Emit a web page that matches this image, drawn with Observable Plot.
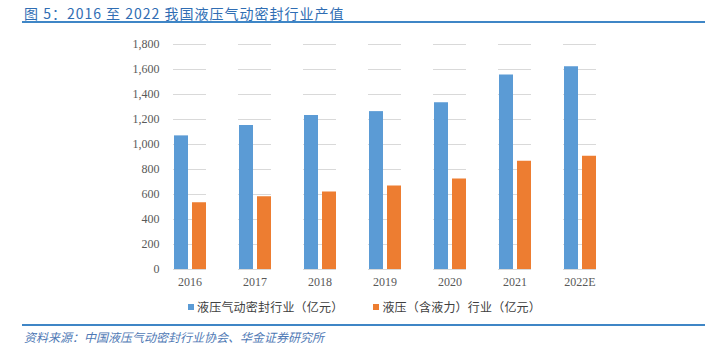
<!DOCTYPE html>
<html>
<head>
<meta charset="utf-8">
<script src="https://cdn.jsdelivr.net/npm/d3@7"></script>
<script src="https://cdn.jsdelivr.net/npm/@observablehq/plot@0.6"></script>
<style>
  html, body { margin: 0; padding: 0; background: #fff; }
  #wrap { position: relative; width: 705px; height: 353px; overflow: hidden; font-family: "Noto Sans CJK SC", sans-serif; }
  #title { position: absolute; left: 24px; top: 3px; font-size: 14px; letter-spacing: 1px; color: #2f6db3; white-space: nowrap; }
  .hline { position: absolute; left: 22px; right: 0; height: 2px; background: #3f86c6; }
  #chart { position: absolute; left: 0; top: 0; }
  #legend { position: absolute; top: 298px; left: 188px; font-size: 12px; color: #404040; white-space: nowrap; display: flex; }
  .item { display: flex; align-items: center; margin-right: 30px; letter-spacing: 0.2px; }
  .sw { width: 6px; height: 6px; margin-right: 3px; }
  #source { position: absolute; left: 24px; top: 328px; font-size: 12px; font-style: italic; color: #4f79b5; white-space: nowrap; }
</style>
</head>
<body>
<div id="wrap">
  <div id="title">图 5：2016 至 2022 我国液压气动密封行业产值</div>
  <div class="hline" style="top:21px"></div>
  <div id="chart"></div>
  <div id="legend"></div>
  <div class="hline" style="top:324px"></div>
  <div id="source">资料来源：中国液压气动密封行业协会、华金证券研究所</div>
</div>
<script>
const years = ["2016", "2017", "2018", "2019", "2020", "2021", "2022E"];
const seriesNames = ["液压气动密封行业（亿元）", "液压（含液力）行业（亿元）"];
const sealValues = [1069, 1152, 1232, 1263, 1334, 1556, 1622];
const hydraulicValues = [534, 582, 620, 668, 724, 866, 906];
const yTicks = [0, 200, 400, 600, 800, 1000, 1200, 1400, 1600, 1800];
const colors = ["#5b9bd5", "#ed7d31"];

const data = [];
years.forEach((y, i) => {
  data.push({year: y, series: seriesNames[0], value: sealValues[i]});
  data.push({year: y, series: seriesNames[1], value: hydraulicValues[i]});
});

const chart = Plot.plot({
  width: 705,
  height: 300,
  marginTop: 44,
  marginBottom: 31,
  marginLeft: 156,
  marginRight: 93,
  style: {fontFamily: "'Liberation Serif', serif", fontSize: "12px", color: "#595959", background: "transparent"},
  fx: {domain: years, paddingInner: 0.495, paddingOuter: 0.2475, label: null, tickSize: 0, tickPadding: 8},
  x: {domain: seriesNames, paddingInner: 0.25, paddingOuter: 0, axis: null},
  y: {domain: [0, 1800], ticks: yTicks, tickFormat: d3.format(","), label: null, tickSize: 0, tickPadding: 14},
  color: {domain: seriesNames, range: colors},
  marks: [
    Plot.ruleY(yTicks, {stroke: "#d9d9d9", strokeWidth: 1}),
    Plot.barY(data, {fx: "year", x: "series", y: "value", fill: "series"})
  ]
});
document.getElementById("chart").appendChild(chart);

const legend = document.getElementById("legend");
seriesNames.forEach((name, i) => {
  const it = document.createElement("div");
  it.className = "item";
  const sw = document.createElement("div");
  sw.className = "sw";
  sw.style.background = colors[i];
  it.appendChild(sw);
  const t = document.createElement("span");
  t.textContent = name;
  it.appendChild(t);
  legend.appendChild(it);
});
</script>
</body>
</html>
